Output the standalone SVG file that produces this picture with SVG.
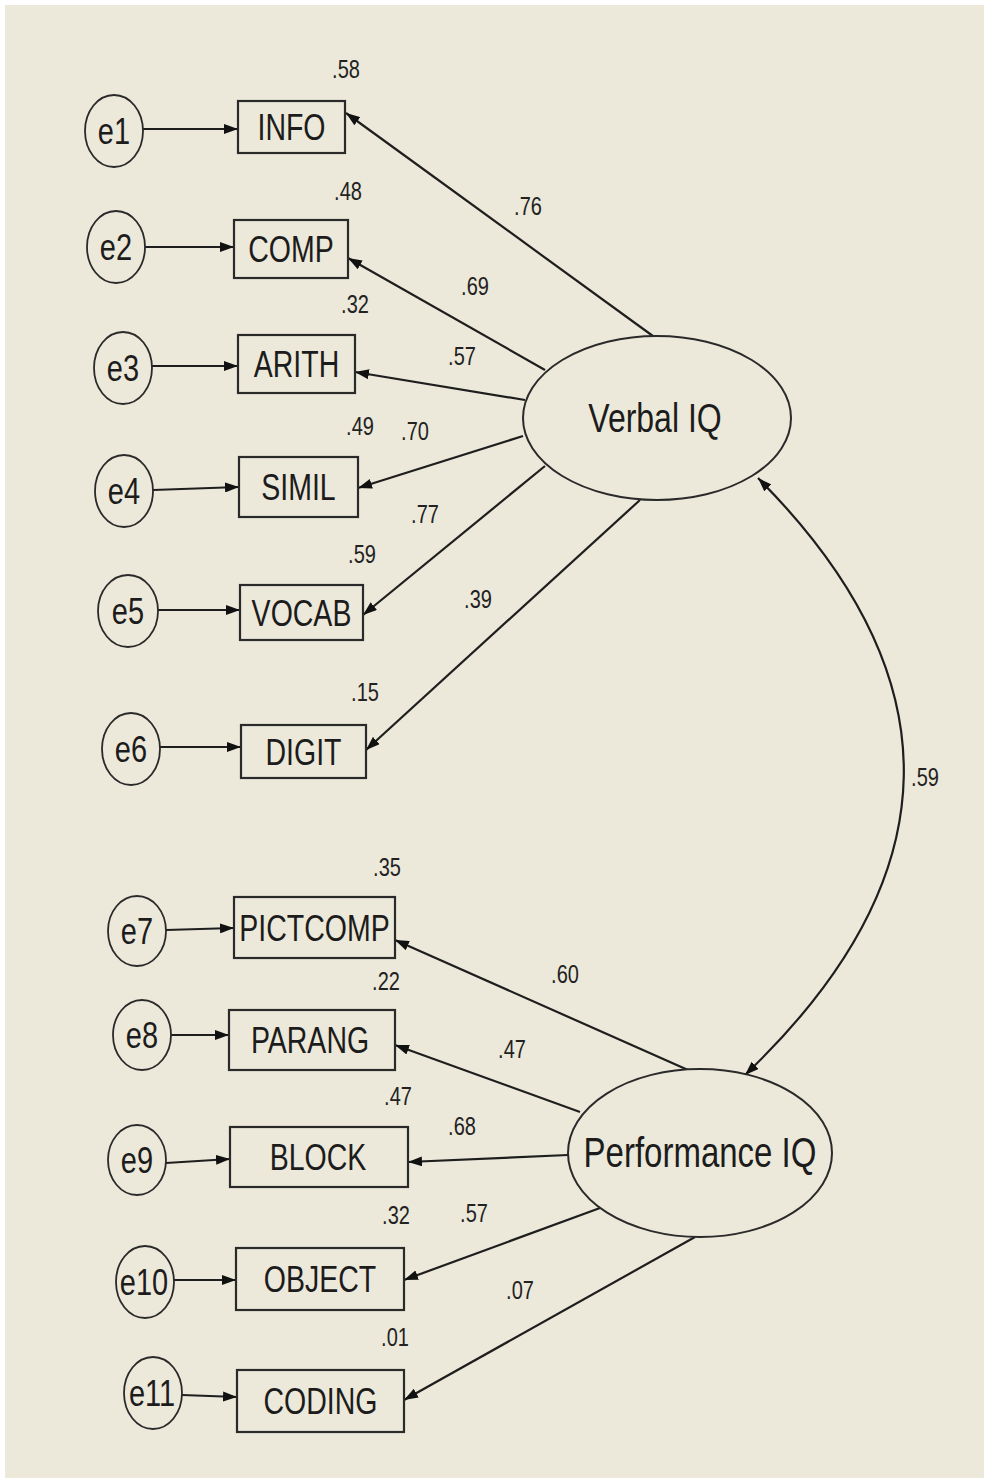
<svg xmlns="http://www.w3.org/2000/svg" width="984" height="1478" viewBox="0 0 984 1478">
<defs>
<style>
.bg{fill:#ECE9DA}
.box{fill:#ECE9DA;stroke:#2a2a2a;stroke-width:2.2}
.err{fill:#ECE9DA;stroke:#2a2a2a;stroke-width:1.8}
.lat{fill:#ECE9DA;stroke:#2a2a2a;stroke-width:2}
.con{fill:none;stroke:#1e1e1e;stroke-width:2.2}
.lbl{font-family:"Liberation Sans",Arial,sans-serif;font-size:28.5px;fill:#1c1c1c;text-anchor:middle}
.el{font-family:"Liberation Sans",Arial,sans-serif;font-size:29px;fill:#1c1c1c;text-anchor:middle}
.num{font-family:"Liberation Sans",Arial,sans-serif;font-size:20px;fill:#222;text-anchor:middle}
.lt{font-family:"Liberation Sans",Arial,sans-serif;font-size:32px;fill:#1c1c1c;text-anchor:middle}
.lt2{font-family:"Liberation Sans",Arial,sans-serif;font-size:33px;fill:#1c1c1c;text-anchor:middle}
</style>
<marker id="ah" viewBox="0 0 14 10" refX="14" refY="5" markerWidth="14" markerHeight="10" markerUnits="userSpaceOnUse" orient="auto-start-reverse">
<path d="M0,0 L14,5 L0,10 z" fill="#111"/>
</marker>
</defs>
<rect x="0" y="0" width="984" height="1478" fill="#ffffff"/>
<rect class="bg" x="5" y="5" width="979" height="1473"/>

<g id="connectors">
<line class="con" x1="143" y1="129" x2="238" y2="129" marker-end="url(#ah)"/>
<line class="con" x1="145" y1="247" x2="234" y2="247" marker-end="url(#ah)"/>
<line class="con" x1="152" y1="366" x2="238" y2="366" marker-end="url(#ah)"/>
<line class="con" x1="153" y1="490" x2="239" y2="487" marker-end="url(#ah)"/>
<line class="con" x1="158" y1="610" x2="240" y2="610" marker-end="url(#ah)"/>
<line class="con" x1="160" y1="747" x2="241" y2="747" marker-end="url(#ah)"/>
<line class="con" x1="166" y1="930" x2="234" y2="928" marker-end="url(#ah)"/>
<line class="con" x1="171" y1="1035" x2="229" y2="1035" marker-end="url(#ah)"/>
<line class="con" x1="166" y1="1163" x2="230" y2="1159" marker-end="url(#ah)"/>
<line class="con" x1="174" y1="1280" x2="236" y2="1280" marker-end="url(#ah)"/>
<line class="con" x1="182" y1="1395" x2="237" y2="1397" marker-end="url(#ah)"/>
<line class="con" x1="657" y1="339" x2="346" y2="113" marker-end="url(#ah)"/>
<line class="con" x1="545" y1="370" x2="348" y2="258" marker-end="url(#ah)"/>
<line class="con" x1="525" y1="400" x2="355" y2="372" marker-end="url(#ah)"/>
<line class="con" x1="523" y1="436" x2="358" y2="488" marker-end="url(#ah)"/>
<line class="con" x1="545" y1="466" x2="363" y2="615" marker-end="url(#ah)"/>
<line class="con" x1="640" y1="500" x2="366" y2="750" marker-end="url(#ah)"/>
<line class="con" x1="688" y1="1070" x2="395" y2="940" marker-end="url(#ah)"/>
<line class="con" x1="580" y1="1112" x2="395" y2="1045" marker-end="url(#ah)"/>
<line class="con" x1="568" y1="1155" x2="408" y2="1162" marker-end="url(#ah)"/>
<line class="con" x1="600" y1="1208" x2="404" y2="1280" marker-end="url(#ah)"/>
<line class="con" x1="695" y1="1237" x2="404" y2="1400" marker-end="url(#ah)"/>
<path class="con" d="M758,478 Q1056,778 745,1075" marker-start="url(#ah)" marker-end="url(#ah)"/>
</g>

<g id="e1"><ellipse class="err" cx="114" cy="131" rx="29" ry="36"/><text class="el" transform="translate(114,144) scale(1,1.3)">e1</text></g>
<g id="e2"><ellipse class="err" cx="116" cy="247" rx="29" ry="36"/><text class="el" transform="translate(116,260) scale(1,1.3)">e2</text></g>
<g id="e3"><ellipse class="err" cx="123" cy="368" rx="29" ry="36"/><text class="el" transform="translate(123,381) scale(1,1.3)">e3</text></g>
<g id="e4"><ellipse class="err" cx="124" cy="491" rx="29" ry="36"/><text class="el" transform="translate(124,504) scale(1,1.3)">e4</text></g>
<g id="e5"><ellipse class="err" cx="128" cy="611" rx="30" ry="36"/><text class="el" transform="translate(128,624) scale(1,1.3)">e5</text></g>
<g id="e6"><ellipse class="err" cx="131" cy="749" rx="29" ry="36"/><text class="el" transform="translate(131,762) scale(1,1.3)">e6</text></g>
<g id="e7"><ellipse class="err" cx="137" cy="931" rx="29" ry="35"/><text class="el" transform="translate(137,944) scale(1,1.3)">e7</text></g>
<g id="e8"><ellipse class="err" cx="142" cy="1035" rx="29" ry="35"/><text class="el" transform="translate(142,1048) scale(1,1.3)">e8</text></g>
<g id="e9"><ellipse class="err" cx="137" cy="1160" rx="29" ry="35"/><text class="el" transform="translate(137,1173) scale(1,1.3)">e9</text></g>
<g id="e10"><ellipse class="err" cx="145" cy="1282" rx="29" ry="36"/><text class="el" transform="translate(144,1295) scale(1,1.3)">e10</text></g>
<g id="e11"><ellipse class="err" cx="153" cy="1393" rx="29" ry="36"/><text class="el" transform="translate(152,1406) scale(1,1.3)">e11</text></g>

<g id="INFO"><rect class="box" x="238" y="101" width="107" height="52"/><text class="lbl" transform="translate(291.5,140) scale(1,1.3)">INFO</text><text class="num" transform="translate(346,78) scale(1,1.25)">.58</text></g>
<g id="COMP"><rect class="box" x="234" y="220" width="114" height="58"/><text class="lbl" transform="translate(291,262) scale(1,1.3)">COMP</text><text class="num" transform="translate(348,200) scale(1,1.25)">.48</text></g>
<g id="ARITH"><rect class="box" x="238" y="335" width="117" height="58"/><text class="lbl" transform="translate(296.5,377) scale(1,1.3)">ARITH</text><text class="num" transform="translate(355,313) scale(1,1.25)">.32</text></g>
<g id="SIMIL"><rect class="box" x="239" y="457" width="119" height="60"/><text class="lbl" transform="translate(298.5,500) scale(1,1.3)">SIMIL</text><text class="num" transform="translate(360,435) scale(1,1.25)">.49</text></g>
<g id="VOCAB"><rect class="box" x="240" y="585" width="123" height="55"/><text class="lbl" transform="translate(301.5,625.5) scale(1,1.3)">VOCAB</text><text class="num" transform="translate(362,563) scale(1,1.25)">.59</text></g>
<g id="DIGIT"><rect class="box" x="241" y="725" width="125" height="53"/><text class="lbl" transform="translate(303.5,764.5) scale(1,1.3)">DIGIT</text><text class="num" transform="translate(365,701) scale(1,1.25)">.15</text></g>
<g id="PICTCOMP"><rect class="box" x="234" y="897" width="161" height="61"/><text class="lbl" transform="translate(314.5,940.5) scale(1,1.3)">PICTCOMP</text><text class="num" transform="translate(387,876) scale(1,1.25)">.35</text></g>
<g id="PARANG"><rect class="box" x="229" y="1010" width="166" height="60"/><text class="lbl" transform="translate(310,1053) scale(1,1.3)">PARANG</text><text class="num" transform="translate(386,990) scale(1,1.25)">.22</text></g>
<g id="BLOCK"><rect class="box" x="230" y="1127" width="178" height="60"/><text class="lbl" transform="translate(318,1170) scale(1,1.3)">BLOCK</text><text class="num" transform="translate(398,1105) scale(1,1.25)">.47</text></g>
<g id="OBJECT"><rect class="box" x="236" y="1248" width="168" height="62"/><text class="lbl" transform="translate(320,1292) scale(1,1.3)">OBJECT</text><text class="num" transform="translate(396,1224) scale(1,1.25)">.32</text></g>
<g id="CODING"><rect class="box" x="237" y="1370" width="167" height="62"/><text class="lbl" transform="translate(320.5,1414) scale(1,1.3)">CODING</text><text class="num" transform="translate(395,1346) scale(1,1.25)">.01</text></g>

<g id="VerbalIQ"><ellipse class="lat" cx="657" cy="418" rx="134" ry="82"/><text class="lt" transform="translate(655,432) scale(1,1.25)">Verbal IQ</text></g>
<g id="PerformanceIQ"><ellipse class="lat" cx="700" cy="1153" rx="132" ry="84"/><text class="lt2" transform="translate(700,1167) scale(1,1.27)">Performance IQ</text></g>

<g id="loading-labels">
<text class="num" transform="translate(528,215) scale(1,1.25)">.76</text>
<text class="num" transform="translate(475,295) scale(1,1.25)">.69</text>
<text class="num" transform="translate(462,365) scale(1,1.25)">.57</text>
<text class="num" transform="translate(415,440) scale(1,1.25)">.70</text>
<text class="num" transform="translate(425,523) scale(1,1.25)">.77</text>
<text class="num" transform="translate(478,608) scale(1,1.25)">.39</text>
<text class="num" transform="translate(925,786) scale(1,1.25)">.59</text>
<text class="num" transform="translate(565,983) scale(1,1.25)">.60</text>
<text class="num" transform="translate(512,1058) scale(1,1.25)">.47</text>
<text class="num" transform="translate(462,1135) scale(1,1.25)">.68</text>
<text class="num" transform="translate(474,1222) scale(1,1.25)">.57</text>
<text class="num" transform="translate(520,1299) scale(1,1.25)">.07</text>
</g>
</svg>
